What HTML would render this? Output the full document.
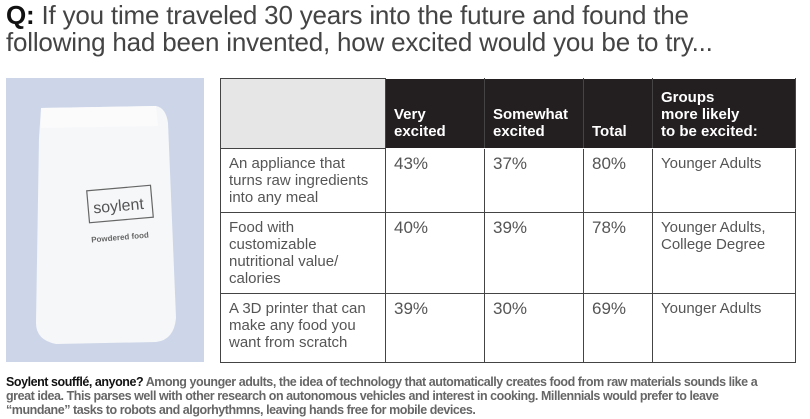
<!DOCTYPE html>
<html><head><meta charset="utf-8">
<style>
body{margin:0;width:810px;height:419px;background:#fff;font-family:"Liberation Sans",sans-serif;position:relative;overflow:hidden;color:#333}
.title{position:absolute;left:6px;top:2px;font-size:26px;line-height:27px;letter-spacing:-0.2px;color:#444;white-space:nowrap}
.title b{color:#111}
.photo{position:absolute;left:6px;top:78px;width:198px;height:284px;background:#cdd6e8}
table{position:absolute;left:220px;top:78px;border-collapse:collapse;width:576px;font-size:15px;color:#555}
td,th{border:1.5px solid #444;vertical-align:top;padding:6px 8px;text-align:left;line-height:17px}
th{background:#231f20;color:#fff;font-weight:bold;vertical-align:bottom;padding-bottom:8px;border-color:#fff #444}
th.blank{background:#e6e6e6;border-color:#444}
.caption{position:absolute;left:6px;top:375px;width:770px;font-size:12.5px;line-height:14px;font-weight:bold;color:#666;letter-spacing:-0.45px}
.caption b{color:#111}
</style></head><body>
<div class="title"><b>Q:</b> If you time traveled 30 years into the future and found the<br>following had been invented, how excited would you be to try...</div>
<div class="photo">
<svg width="198" height="284">
<path d="M35 30 L150 28 Q160 30 162 45 L170 240 Q168 262 150 264 L50 266 Q30 262 30 245 L33 60 Z" fill="#f6f7f9"/>
<path d="M35 30 L150 28 L152 48 L35 50 Z" fill="#fbfbfc"/>
<rect x="82" y="110" width="64" height="32" fill="none" stroke="#666" stroke-width="1.2" transform="rotate(-5 114 126)"/>
<text x="87" y="133" font-size="16" fill="#555" font-family="Liberation Sans" transform="rotate(-5 114 126)">soylent</text>
<text x="85" y="162" font-size="8" font-weight="bold" fill="#666" font-family="Liberation Sans" transform="rotate(-5 114 158)">Powdered food</text>
</svg></div>
<table>
<tr style="height:70px"><th class="blank" style="width:148px"></th><th style="width:82px">Very<br>excited</th><th style="width:82px">Somewhat<br>excited</th><th style="width:52px">Total</th><th>Groups<br>more likely<br>to be excited:</th></tr>
<tr style="height:63px"><td>An appliance that turns raw ingredients into any meal</td><td style="font-size:17px">43%</td><td style="font-size:17px">37%</td><td style="font-size:17px">80%</td><td>Younger Adults</td></tr>
<tr style="height:81px"><td>Food with customizable nutritional value/ calories</td><td style="font-size:17px">40%</td><td style="font-size:17px">39%</td><td style="font-size:17px">78%</td><td>Younger Adults, College Degree</td></tr>
<tr style="height:69px"><td>A 3D printer that can make any food you want from scratch</td><td style="font-size:17px">39%</td><td style="font-size:17px">30%</td><td style="font-size:17px">69%</td><td>Younger Adults</td></tr>
</table>
<div class="caption"><b>Soylent soufflé, anyone?</b> Among younger adults, the idea of technology that automatically creates food from raw materials sounds like a great idea. This parses well with other research on autonomous vehicles and interest in cooking. Millennials would prefer to leave “mundane” tasks to robots and algorhythmns, leaving hands free for mobile devices.</div>
</body></html>
